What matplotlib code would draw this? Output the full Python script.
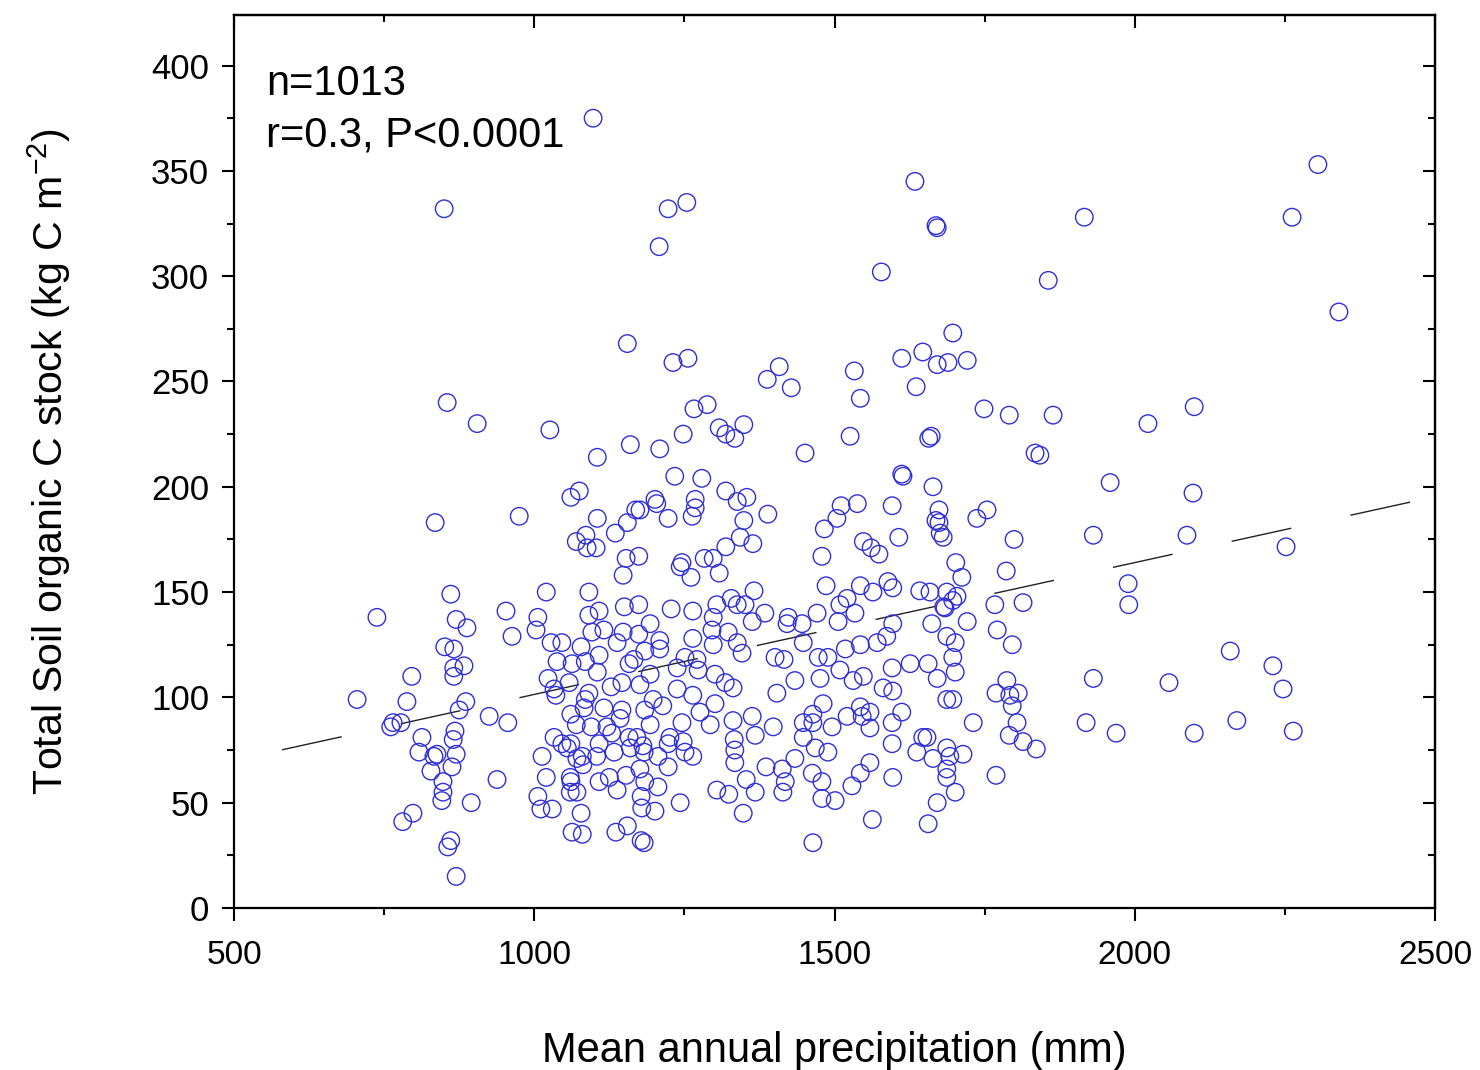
import matplotlib
matplotlib.use("Agg")
import matplotlib.pyplot as plt
from matplotlib.ticker import MultipleLocator

plt.rcParams['font.family'] = ['Liberation Sans', 'DejaVu Sans']
plt.rcParams['mathtext.default'] = 'regular'

# Mean annual precipitation (mm)
map_mm = [
    1098, 850, 1223, 1254, 1208, 2305, 2262, 1916, 1634, 1669, 1671, 1578, 1856, 2340,
    1155, 855, 905, 1026, 1160, 1105, 1209, 1061, 1075, 1105, 1135, 1155, 1169,
    1070, 1086, 1088, 1103, 1153, 1174, 1148, 835, 975, 861, 1020, 1091,
    738, 870, 953, 1006, 1091, 1108, 1150, 1174, 963, 1003, 888,
    851, 866, 883, 866, 866, 796, 788, 705, 765, 761, 778, 886, 875, 868, 865, 870, 863,
    813, 808, 833, 838, 828, 848, 848, 846, 925, 956, 938, 895, 798, 781, 861, 856, 870,
    1023, 1033, 1036, 1058, 1078, 1096, 1116, 1028, 1046, 1038, 1063, 1108, 1105, 1128,
    1091, 1083, 1061, 1070, 1095, 1116, 1146, 1138, 1166, 1146, 1174,
    1033, 1055, 1061, 1080, 1108, 1133, 1158, 1183, 1013, 1020, 1006, 1011, 1030,
    1061, 1071, 1078, 1063, 1080, 1108, 1125, 1153, 1138, 1178, 1179, 1136, 1155, 1178,
    1228, 1264, 1304, 1338, 1363, 1384, 1298, 1296, 1323, 1338, 1346, 1264, 1298,
    1193, 1209, 1251, 1273, 1301, 1318, 1331, 1238, 1198, 1264, 1301,
    1193, 1246, 1293, 1331, 1363, 1398, 1368, 1333, 1334, 1334,
    1223, 1251, 1264, 1206, 1223, 1206, 1201, 1243, 1183,
    1304, 1324, 1353, 1368, 1348, 1386, 1413, 1434, 1418, 1414,
    1421, 1446, 1471, 1448, 1506, 1534, 1509, 1401, 1416, 1434, 1404,
    1473, 1489, 1476, 1518, 1543, 1571, 1587, 1597, 1509, 1531, 1548, 1581, 1597,
    1481, 1464, 1448, 1464, 1496, 1521, 1543, 1559, 1546, 1559, 1612, 1596,
    1448, 1468, 1489, 1596, 1463, 1479, 1479, 1501, 1529, 1543, 1559, 1597, 1563, 1464,
    1596, 1626, 1656, 1671, 1687, 1701, 1697, 1701, 1721, 1662, 1682, 1697,
    1687, 1697, 1731, 1647, 1637, 1664, 1654, 1687, 1692, 1714, 1687, 1687, 1701, 1671, 1656,
    1767, 1814, 1771, 1796, 1787, 1769, 1792, 1806, 1796, 1804, 1791, 1814, 1836, 1769,
    1231, 1256, 1388, 1408, 1428, 1533, 1543, 1612, 1647, 1697, 1671, 1689, 1721, 1636,
    1749, 1791, 1864, 1266, 1288, 1308, 1319, 1334, 1349, 1248, 1451, 1526, 1657, 1661, 1834,
    1612, 1614, 1664, 1234, 1279, 1201, 1204, 1223, 1268, 1268, 1263, 1319, 1338, 1354, 1389,
    1176, 1349, 1343, 1364, 1319, 1283, 1298, 1246, 1243, 1261, 1308,
    1483, 1504, 1511, 1538, 1596, 1479, 1548, 1561, 1574, 1607,
    1669, 1674, 1674, 1676, 1681, 1737, 1754, 1799, 1702, 1712, 1786,
    1486, 1543, 1564, 1589, 1597, 1642, 1659, 1687, 1704, 1684, 1521, 1366, 1328, 1351, 1423,
    2022, 2099, 1842, 1959, 2097, 1931, 2087, 2252, 1989, 1990,
    2159, 2230, 2247, 1931, 2057, 1919, 1969, 2099, 2170, 2264,
    1148, 1209, 1184, 1085, 1158, 1271, 1193, 1238, 1176, 1085, 1214, 1184, 1276, 1143,
    1121, 1171, 1046, 1129, 1226, 1248, 1071, 1160, 1181, 1104, 1060, 1081, 1176, 1184, 1060,
]

# Total soil organic C stock (kg C m-2)
soc = [
    375, 332, 332, 335, 314, 353, 328, 328, 345, 324, 323, 302, 298, 283,
    268, 240, 230, 227, 220, 214, 218, 195, 198, 185, 178, 183, 189,
    174, 177, 171, 171, 166, 167, 158, 183, 186, 149, 150, 150,
    138, 137, 141, 138, 139, 141, 143, 144, 129, 132, 133,
    124, 123, 115, 114, 110, 110, 98, 99, 88, 86, 88, 98, 94, 84, 80, 73, 67,
    81, 74, 72, 73, 65, 60, 55, 51, 91, 88, 61, 50, 45, 41, 32, 29, 15,
    109, 104, 101, 107, 124, 131, 132, 126, 126, 117, 116, 120, 112, 105,
    102, 95, 92, 87, 86, 95, 94, 126, 118, 107, 130,
    81, 76, 78, 72, 78, 74, 81, 74, 72, 62, 53, 47, 47,
    60, 55, 45, 36, 35, 60, 62, 63, 56, 53, 47.5, 36, 39, 32,
    142, 141, 144, 144, 136, 140, 138, 132, 131, 126, 121, 128, 125,
    135, 123, 119, 113, 111, 107, 104.5, 104, 99, 101, 97,
    87, 88, 87, 89, 91, 86, 82, 80, 75, 69,
    78, 74, 72, 72, 67, 57.5, 46, 50, 31,
    56, 54, 61, 55, 45, 67, 66, 71, 60, 55,
    135, 135, 140, 126, 136, 140, 144, 119, 118, 108, 102,
    119, 119, 109, 123, 125, 126, 129, 135, 113, 108, 110, 104.5, 103,
    97, 92, 88, 88, 86, 91, 95.5, 93, 91, 85.5, 93, 88,
    81, 76, 74, 78, 64, 60, 52, 51, 58, 64, 69, 62, 42, 31,
    114, 116, 116, 109, 129, 126, 119, 112, 136, 135, 143, 146,
    99, 99, 88, 81, 74, 71, 81, 76, 72, 73, 66, 62, 55, 50, 40,
    144, 145, 132, 125, 108, 102, 101, 102, 96, 88, 82, 79, 75.5, 63,
    259, 261, 251, 257, 247, 255, 242, 261, 264, 273, 258, 259, 260, 247.5,
    237, 234, 234, 237, 239, 228, 225, 223, 229.5, 225, 216, 224, 223, 224, 216,
    206, 205, 200, 205, 204, 194, 192, 185, 194, 190, 186, 198, 193, 195, 187,
    189, 184, 176, 173, 171.5, 166, 166, 164, 162, 157, 159,
    180, 185, 191, 192, 191, 167, 174, 171, 168, 176,
    184, 189, 183, 178, 176, 185, 189, 175, 164, 157, 160,
    153, 153, 150, 155, 152, 150.6, 150, 150, 148, 142.5, 147, 150.6, 147, 144, 138,
    230, 238, 215, 202, 197, 177, 177, 171.5, 154, 144,
    122, 115, 104, 109, 107, 88, 83, 83, 89, 84,
    131, 127, 122, 117, 116, 118, 111, 114, 106, 99, 96, 94, 93, 90,
    86, 81, 78, 83, 81, 79, 71, 76, 77, 72, 62, 68, 66, 60, 55,
]

# Fitted regression line
fit_x = [580, 2462]
fit_intercept = 38.8
fit_slope = 0.0626

x_ticks = [500, 1000, 1500, 2000, 2500]
y_ticks = [0, 50, 100, 150, 200, 250, 300, 350, 400]

fig = plt.figure(figsize=(14.8, 10.7), dpi=100)
ax = fig.add_axes([234/1480, 1-908/1070, (1435-234)/1480, (908-15)/1070])

ax.scatter(map_mm, soc, s=12.6**2, facecolors='none', edgecolors='#2f2fd8',
           linewidths=1.0, zorder=3)

fit_y = [fit_intercept + fit_slope * v for v in fit_x]
ax.plot(fit_x, fit_y, color='#222222', lw=1.0, dashes=(44, 43.5), zorder=2)

ax.set_xlim(500, 2500)
ax.set_ylim(0, 424)
ax.set_xticks(x_ticks)
ax.set_yticks(y_ticks)
ax.xaxis.set_minor_locator(MultipleLocator(250))
ax.yaxis.set_minor_locator(MultipleLocator(25))

for s in ax.spines.values():
    s.set_linewidth(1.6)

ax.tick_params(which='both', direction='out', width=1.5, top=False, right=False)
ax.tick_params(which='major', length=9)
ax.tick_params(which='minor', length=5)
ax.tick_params(axis='x', labelsize=24, pad=14)
ax.tick_params(axis='y', labelsize=25, pad=9)

# mirrored ticks on top and right pointing inward
secx = ax.secondary_xaxis('top')
secx.set_xticks(x_ticks)
secx.xaxis.set_minor_locator(MultipleLocator(250))
secx.tick_params(which='both', direction='in', width=1.5, labeltop=False)
secx.tick_params(which='major', length=9)
secx.tick_params(which='minor', length=5)
secx.spines['top'].set_linewidth(1.6)
secy = ax.secondary_yaxis('right')
secy.set_yticks(y_ticks)
secy.yaxis.set_minor_locator(MultipleLocator(25))
secy.tick_params(which='both', direction='in', width=1.5, labelright=False)
secy.tick_params(which='major', length=9)
secy.tick_params(which='minor', length=5)
secy.spines['right'].set_linewidth(1.6)

ax.set_xlabel('Mean annual precipitation (mm)', fontsize=30, labelpad=43)
ax.set_ylabel('Total Soil organic C stock (kg C m$^{-2}$)', fontsize=29.5, labelpad=56)

fig.text(266/1480, 1-95/1070, 'n=1013', fontsize=30, ha='left', va='baseline')
fig.text(266/1480, 1-146/1070, 'r=0.3, P<0.0001', fontsize=30, ha='left', va='baseline')

fig.savefig('out.png', dpi=100)
